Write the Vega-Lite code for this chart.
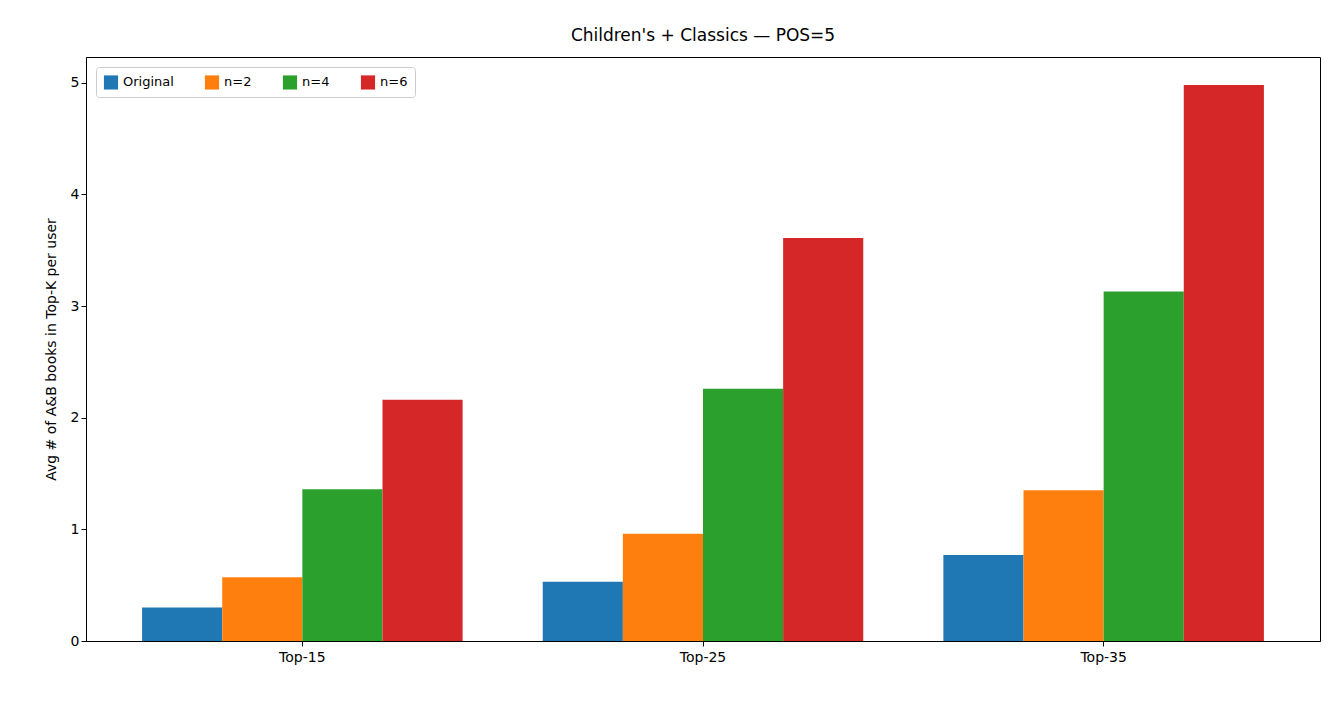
{
  "$schema": "https://vega.github.io/schema/vega-lite/v6.json",
  "width": 1234,
  "height": 584,
  "autosize": "none",
  "padding": {"left": 86, "top": 57, "right": 24, "bottom": 63},
  "title": {"text": "Children's + Classics — POS=5", "fontSize": 17, "fontWeight": "normal", "font": "DejaVu Sans", "offset": 12},
  "config": {
    "view": {"stroke": "black", "strokeWidth": 1},
    "axis": {"labelFont": "DejaVu Sans", "titleFont": "DejaVu Sans", "labelFontSize": 14, "titleFontSize": 14, "titleFontWeight": "normal", "labelColor": "black", "titleColor": "black", "domainColor": "black", "tickColor": "black", "grid": false, "tickSize": 5}
  },
  "data": {
    "values": [
      {"k": "Top-15", "s": "Original", "v": 0.30},
      {"k": "Top-15", "s": "n=2", "v": 0.57},
      {"k": "Top-15", "s": "n=4", "v": 1.36},
      {"k": "Top-15", "s": "n=6", "v": 2.16},
      {"k": "Top-25", "s": "Original", "v": 0.53},
      {"k": "Top-25", "s": "n=2", "v": 0.96},
      {"k": "Top-25", "s": "n=4", "v": 2.26},
      {"k": "Top-25", "s": "n=6", "v": 3.61},
      {"k": "Top-35", "s": "Original", "v": 0.77},
      {"k": "Top-35", "s": "n=2", "v": 1.35},
      {"k": "Top-35", "s": "n=4", "v": 3.13},
      {"k": "Top-35", "s": "n=6", "v": 4.98}
    ]
  },
  "mark": {"type": "bar"},
  "encoding": {
    "x": {"field": "k", "type": "nominal", "title": null, "scale": {"paddingInner": 0.2, "paddingOuter": 0.14}, "axis": {"labelAngle": 0, "labelPadding": 4}},
    "xOffset": {"field": "s", "type": "nominal", "scale": {"paddingInner": 0, "paddingOuter": 0}},
    "y": {"field": "v", "type": "quantitative", "title": "Avg # of A&B books in Top-K per user", "scale": {"domain": [0, 5.23], "nice": false}, "axis": {"values": [0, 1, 2, 3, 4, 5], "titlePadding": 12}},
    "color": {
      "field": "s", "type": "nominal",
      "scale": {"domain": ["Original", "n=2", "n=4", "n=6"], "range": ["#1f77b4", "#ff7f0e", "#2ca02c", "#d62728"]},
      "legend": {"title": null, "orient": "top-left", "direction": "horizontal", "columns": 4, "symbolType": "square", "symbolSize": 200, "labelFont": "DejaVu Sans", "labelFontSize": 13, "labelColor": "black", "strokeColor": "#cccccc", "fillColor": "white", "padding": 7, "cornerRadius": 3, "offset": 10, "columnPadding": 30}
    }
  }
}
